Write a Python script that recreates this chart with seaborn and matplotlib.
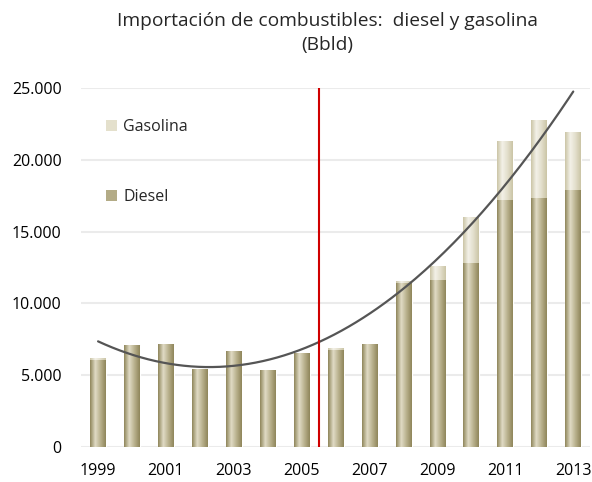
import numpy as np
import matplotlib
matplotlib.use("Agg")
import matplotlib.pyplot as plt
import matplotlib.ticker as mticker
from matplotlib.colors import LinearSegmentedColormap
from matplotlib.patches import Patch
import pandas as pd
import seaborn as sns

# data (Bbld)
years = [1999, 2000, 2001, 2002, 2003, 2004, 2005, 2006, 2007, 2008, 2009, 2010, 2011, 2012, 2013]
diesel = [6050, 7100, 7200, 5400, 6700, 5380, 6570, 6750, 7170, 11450, 11630, 12810, 17200, 17340, 17880]
gasolina = [150, 0, 0, 0, 0, 0, 0, 150, 0, 100, 1000, 3230, 4110, 5450, 4080]
tick_years = [1999, 2001, 2003, 2005, 2007, 2009, 2011, 2013]

df = pd.DataFrame({"year": [str(y) for y in years], "diesel": diesel, "gasolina": gasolina})
df["total"] = df["diesel"] + df["gasolina"]

sns.set_style("white")
plt.rcParams["font.family"] = ["Open Sans", "DejaVu Sans"]

fig, ax = plt.subplots(figsize=(5.92, 4.82), dpi=100)
fig.subplots_adjust(left=0.137, right=0.997, top=0.817, bottom=0.073)

# total first (gasolina colour), diesel over it
sns.barplot(data=df, x="year", y="total", color="#e6e2d0", width=0.47,
            edgecolor="white", linewidth=0.8, ax=ax, saturation=1)
n_tot = len(ax.patches)
sns.barplot(data=df, x="year", y="diesel", color="#c2bb9a", width=0.47,
            edgecolor="white", linewidth=0.8, ax=ax, saturation=1)

# horizontal gradient inside each bar
cm_gas = LinearSegmentedColormap.from_list("gas", ["#cbc5a6", "#f3f1e8", "#e2decb", "#cbc5a6"])
cm_die = LinearSegmentedColormap.from_list("die", ["#8f865b", "#e0dbc5", "#b8b08c", "#8f865b"])
grad = np.linspace(0, 1, 64).reshape(1, -1)
for i, p in enumerate(ax.patches):
    if p.get_height() <= 0:
        continue
    cm = cm_gas if i < n_tot else cm_die
    x0, y0 = p.get_x(), p.get_y()
    im = ax.imshow(grad, cmap=cm, aspect="auto",
                   extent=[x0, x0 + p.get_width(), y0, y0 + p.get_height()],
                   zorder=p.get_zorder() + 0.1 + (0.5 if i >= n_tot else 0))
    im.set_clip_path(p)

# quadratic trend on the totals
xs = np.arange(len(years))
coef = np.polyfit(xs, df["total"].values, 2)
xx = np.linspace(0, len(years) - 1, 200)
ax.plot(xx, np.polyval(coef, xx), color="#555555", lw=1.6, zorder=5)

# red divider between 2005 and 2006
ax.axvline(years.index(2005) + 0.5, color="#d00000", lw=1.5, zorder=6)

ax.set_xlim(-0.5, len(years) - 0.5)
ax.set_ylim(0, 25000)
ax.set_yticks(range(0, 25001, 5000))
ax.yaxis.set_major_formatter(mticker.FuncFormatter(lambda v, _: f"{int(v):,}".replace(",", ".")))
ax.set_xticks([years.index(y) for y in tick_years])
ax.set_xticklabels([str(y) for y in tick_years])
ax.yaxis.grid(True, color="#ebebeb", lw=1.5, zorder=0)
ax.set_axisbelow(True)
for s in ax.spines.values():
    s.set_visible(False)
ax.tick_params(axis="both", length=0, labelsize=11.5, colors="black")
ax.tick_params(axis="y", pad=14)
ax.tick_params(axis="x", pad=12)
ax.set_xlabel("")
ax.set_ylabel("")

handles = [Patch(facecolor="#e4e0cc", edgecolor="none", label="Gasolina"),
           Patch(facecolor="#b3ab86", edgecolor="none", label="Diesel")]
ax.legend(handles=handles, loc="upper left", bbox_to_anchor=(0.02, 0.955), frameon=False,
          fontsize=11.5, labelspacing=3.4, handlelength=0.7, handleheight=0.7, handletextpad=0.4)

fig.suptitle("Importación de combustibles:  diesel y gasolina\n(Bbld)", x=0.553, y=0.975,
             fontsize=13.8, linespacing=1.45)

fig.savefig("out.png", dpi=100)
